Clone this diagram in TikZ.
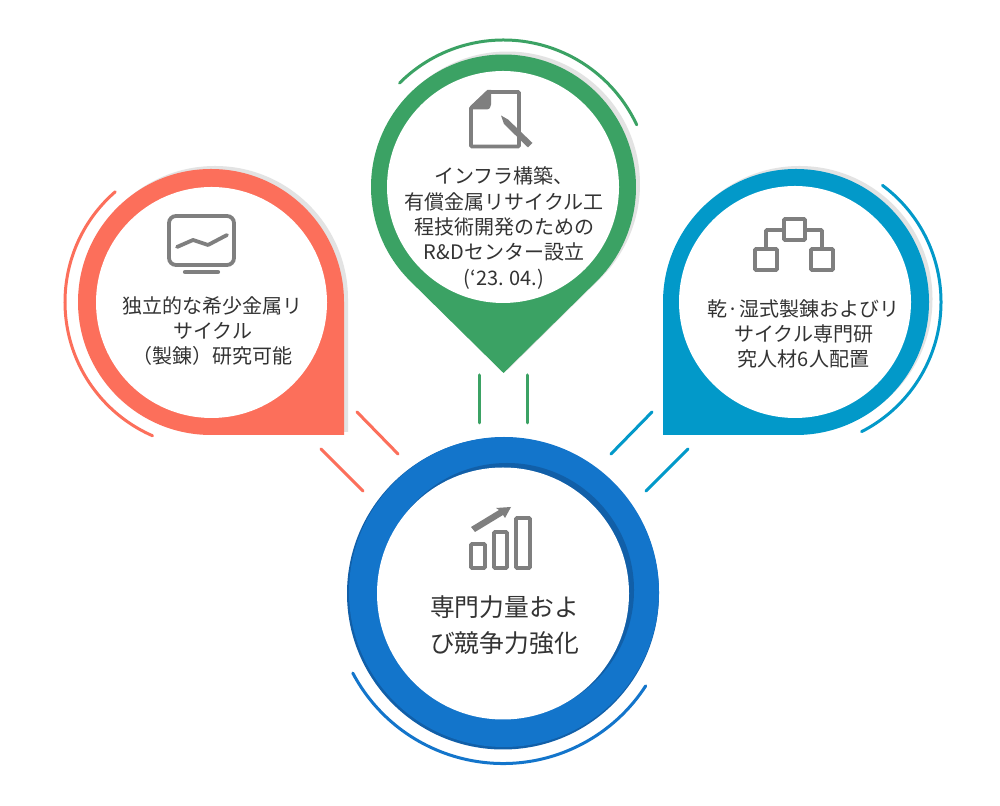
\documentclass[tikz,border=0pt]{standalone}
\usepackage{fontspec}
\setmainfont{Noto Sans CJK JP}
\definecolor{cred}{HTML}{FC6F5B}
\definecolor{cgreen}{HTML}{3BA264}
\definecolor{cblue}{HTML}{0299C9}
\definecolor{cmain}{HTML}{1375CB}
\definecolor{cdark}{HTML}{115FA8}
\definecolor{cshadow}{HTML}{E3E3E3}
\definecolor{cicon}{HTML}{7F7F7F}
\definecolor{ctext}{HTML}{333333}
\tikzset{
  hole/.style={circle,fill=white,draw=none,inner sep=0pt,minimum size=232pt},
  label/.style={inner sep=0pt,align=center,text=ctext,font=\fontsize{20}{25.3}\selectfont},
  biglabel/.style={inner sep=0pt,align=center,text=ctext,font=\fontsize{24.8}{36}\selectfont},
  thin line/.style={line width=3pt,line cap=round},
  iconline/.style={draw=cicon,line width=3.8pt,rounded corners=1pt},
  iconfill/.style={fill=cicon,draw=none}
}
\begin{document}
\begin{tikzpicture}[x=1pt,y=1pt]
\useasboundingbox (0,0) rectangle (1000,805);
\fill[white] (0,0) rectangle (1000,805);

% ---- green pin
\fill[cshadow,shift={(507.5,621)}] (225.4:132.5) arc[start angle=225.4,end angle=-45.4,radius=132.5] -- (0,-186) -- cycle;
\fill[cgreen,shift={(503.5,618)}] (225.4:132.5) arc[start angle=225.4,end angle=-45.4,radius=132.5] -- (0,-186) -- cycle;
\node[hole] (greenhole) at (503,618) {};
\draw[cgreen,thin line,shift={(503.5,618)}] (135:147) arc[start angle=135,end angle=25,radius=147];
% document icon
\draw[iconline] (488,713) -- (519,713) -- (519,658.5) -- (471,658.5) -- (471,697) -- cycle;
\fill[iconfill] (487.5,715) -- (469,697) -- (469,695.5) -- (486,695.5) .. controls (489.5,695.5) and (491,697.5) .. (491,700.5) -- (491,715) -- cycle;
\fill[iconfill] (501,689.5) -- (508,685.5) -- (532.5,662) -- (528,657.5) -- (504,681) -- cycle;
\node[label] (greentext) at (504,577) {インフラ構築、\\有償金属リサイクル工\\程技術開発のための\\R\&Dセンター設立\\(‘23. 04.)};

% ---- red pin
\fill[cshadow,shift={(215,506)}] (133,-133) -- (133,0) arc[start angle=0,end angle=270,radius=133] -- cycle;
\fill[cred,shift={(211,503)}] (133,-133) -- (133,0) arc[start angle=0,end angle=270,radius=133] -- cycle;
\node[hole,minimum size=231pt] (redhole) at (211.5,502.5) {};
\draw[cred,thin line,shift={(211,503)}] (131:146) arc[start angle=131,end angle=246.4,radius=146];
% monitor icon
\draw[iconline,rounded corners=7pt] (169,540) rectangle (234,589);
\draw[cicon,line width=3.8pt,line cap=round,line join=round] (177,558) -- (193,565) -- (208,560) -- (227,570);
\draw[cicon,line width=4.2pt,line cap=round] (185,533) -- (218,533);
\node[label] (redtext) at (212.5,474) {独立的な希少金属リ\\サイクル\\（製錬）研究可能};

% ---- blue pin
\fill[cshadow,shift={(799.5,506)}] (-133,-133) -- (-133,0) arc[start angle=180,end angle=-90,radius=133] -- cycle;
\fill[cblue,shift={(796,503)}] (-133,-133) -- (-133,0) arc[start angle=180,end angle=-90,radius=133] -- cycle;
\node[hole] (bluehole) at (795,503) {};
\draw[cblue,thin line,shift={(795.5,503)}] (53.3:145.5) arc[start angle=53.3,end angle=-63,radius=145.5];
% network icon
\draw[iconline] (784,565) rectangle (805,586);
\draw[iconline] (755,535) rectangle (777,556);
\draw[iconline] (811,535) rectangle (833,556);
\draw[iconline] (784,575) -- (766,575) -- (766,556);
\draw[iconline] (805,575) -- (822,575) -- (822,556);
\node[label] (bluetext) at (803.5,471) {乾·湿式製錬およびリ\\サイクル専門研\\究人材6人配置};

% ---- main ring
\node[circle,fill=cdark,inner sep=0pt,minimum size=312pt] (mainbase) at (503,211.5) {};
\node[circle,fill=cmain,inner sep=0pt,minimum size=310pt] (mainring) at (504,213) {};
\node[circle,fill=cdark,inner sep=0pt,minimum size=254pt] (mainshade) at (507,215) {};
\node[hole,minimum size=252pt] (mainhole) at (503,211.5) {};
\draw[cmain,thin line,shift={(503,211.5)}] (207.9:170) arc[start angle=207.9,end angle=327.1,radius=170];
% bars icon
\draw[iconline] (471,237) rectangle (485,261);
\draw[iconline] (494,237) rectangle (507,273);
\draw[iconline] (516,237) rectangle (530,287);
\fill[iconfill] (471,278) -- (475,273) -- (503,290) -- (505,287) -- (511,298) -- (496,297) -- (499,295) -- cycle;
\node[biglabel] (maintext) at (504.5,180) {専門力量およ\\び競争力強化};

% ---- connectors
\coordinate (g1a) at (479,430); \coordinate (g1b) at (479,382);
\coordinate (g2a) at (527,430); \coordinate (g2b) at (527,382);
\coordinate (r1a) at (357,393); \coordinate (r1b) at (398,351);
\coordinate (r2a) at (321,356); \coordinate (r2b) at (363,314);
\coordinate (b1a) at (652,393); \coordinate (b1b) at (611,351);
\coordinate (b2a) at (688,356); \coordinate (b2b) at (646,314);
\draw[cgreen,thin line] (g1a) -- (g1b);
\draw[cgreen,thin line] (g2a) -- (g2b);
\draw[cred,thin line] (r1a) -- (r1b);
\draw[cred,thin line] (r2a) -- (r2b);
\draw[cblue,thin line] (b1a) -- (b1b);
\draw[cblue,thin line] (b2a) -- (b2b);
\end{tikzpicture}
\end{document}
